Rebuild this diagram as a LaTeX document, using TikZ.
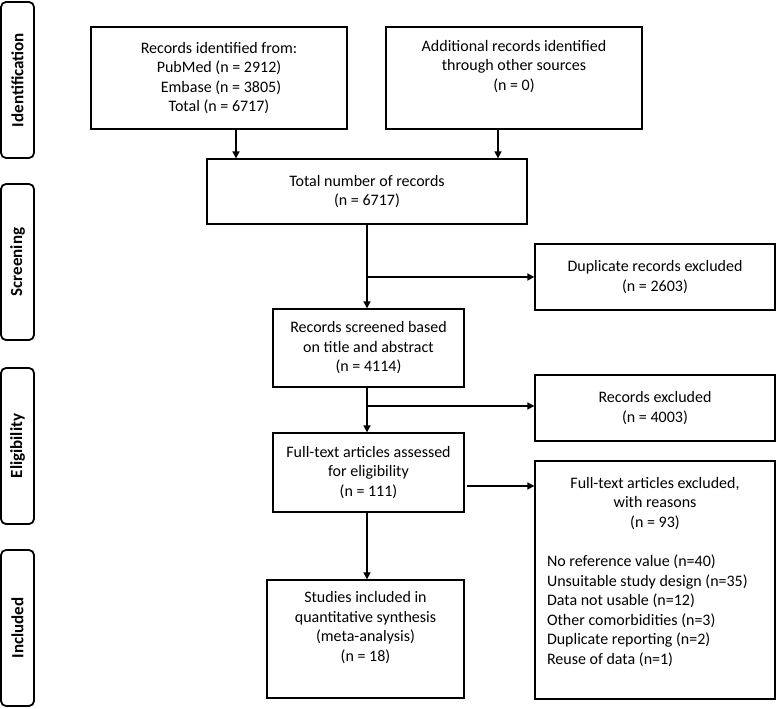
\documentclass[tikz,border=0pt]{standalone}
\usepackage{fontspec}
\setmainfont{Carlito}
\usetikzlibrary{arrows.meta}
\begin{document}
\begin{tikzpicture}[x=1pt,y=-1pt,
  box/.style={draw,line width=1.3pt,inner sep=0pt,align=center,
    font={\fontsize{16}{19.5}\selectfont}},
  side/.style={draw,line width=1.8pt,rounded corners=5pt,inner sep=0pt,
    minimum width=33pt,minimum height=156pt},
  sidetxt/.style={rotate=90,font={\fontsize{17}{18}\selectfont\bfseries}},
  arr/.style={line width=1.6pt,-{Triangle[length=7pt,width=7pt]}}]
\useasboundingbox (0,0) rectangle (777,709);
% side labels
\node[side] (sid) at (17.5,80) {};
\node[sidetxt] (sidt) at (sid) {Identification};
\node[side] (sscr) at (17.5,262) {};
\node[sidetxt] (sscrt) at (sscr) {Screening};
\node[side] (selg) at (17.5,446) {};
\node[sidetxt] (selgt) at (selg) {Eligibility};
\node[side] (sinc) at (17.5,628) {};
\node[sidetxt] (sinct) at (sinc) {Included};
% boxes
\node[box,minimum width=256pt,minimum height=102pt] (rec) at (219,78)
  {Records identified from:\\PubMed (n = 2912)\\\hspace*{4pt}Embase (n = 3805)\\Total (n = 6717)};
\node[box,minimum width=256pt,minimum height=102pt] (add) at (514,78)
  {Additional records identified\\through other sources\\(n = 0)\\\strut};
\node[box,minimum width=320pt,minimum height=65pt] (tot) at (367,191.5)
  {Total number of records\\(n = 6717)};
\node[box,minimum width=240pt,minimum height=66pt] (dup) at (655,277)
  {Duplicate records excluded\\(n = 2603)};
\node[box,minimum width=191pt,minimum height=78pt] (scr) at (368.5,348)
  {Records screened based\\on title and abstract\\(n = 4114)};
\node[box,minimum width=240pt,minimum height=66pt] (exc) at (655,408)
  {Records excluded\\(n = 4003)};
\node[box,minimum width=191pt,minimum height=79pt] (fta) at (368.5,472.5)
  {Full-text articles assessed\\for eligibility\\(n = 111)};
\node[box,minimum width=240pt,minimum height=238pt] (fte) at (655,580) {};
\node[box,draw=none,anchor=north] (fteh) at ([yshift=-16pt]fte.north)
  {Full-text articles excluded,\\with reasons\\(n = 93)};
\node[box,draw=none,align=left,anchor=north west] (ftel) at ([xshift=12pt,yshift=-94pt]fte.north west)
  {No reference value (n=40)\\Unsuitable study design (n=35)\\Data not usable (n=12)\\Other comorbidities (n=3)\\Duplicate reporting (n=2)\\Reuse of data (n=1)};
\node[box,minimum width=197pt,minimum height=118pt] (stu) at (365.5,639)
  {Studies included in\\quantitative synthesis\\(meta-analysis)\\(n = 18)\\\strut};
% helper coordinates
\coordinate (xa) at (236,0);
\coordinate (xb) at (498,0);
\coordinate (xc) at (367,0);
\coordinate (br1) at (367,277);
\coordinate (br2) at (367,406);
\coordinate (yf) at (0,486);
% connectors
\draw[arr] (rec.south -| xa) -- (tot.north -| xa);
\draw[arr] (add.south -| xb) -- (tot.north -| xb);
\draw[arr] (tot.south -| xc) -- (scr.north -| xc);
\draw[arr] (br1) -- (dup.west |- br1);
\draw[arr] (scr.south -| xc) -- (fta.north -| xc);
\draw[arr] (br2) -- (exc.west |- br2);
\draw[arr] ([xshift=2pt]fta.east |- yf) -- (fte.west |- yf);
\draw[arr] (fta.south -| xc) -- (stu.north -| xc);
\end{tikzpicture}
\end{document}
